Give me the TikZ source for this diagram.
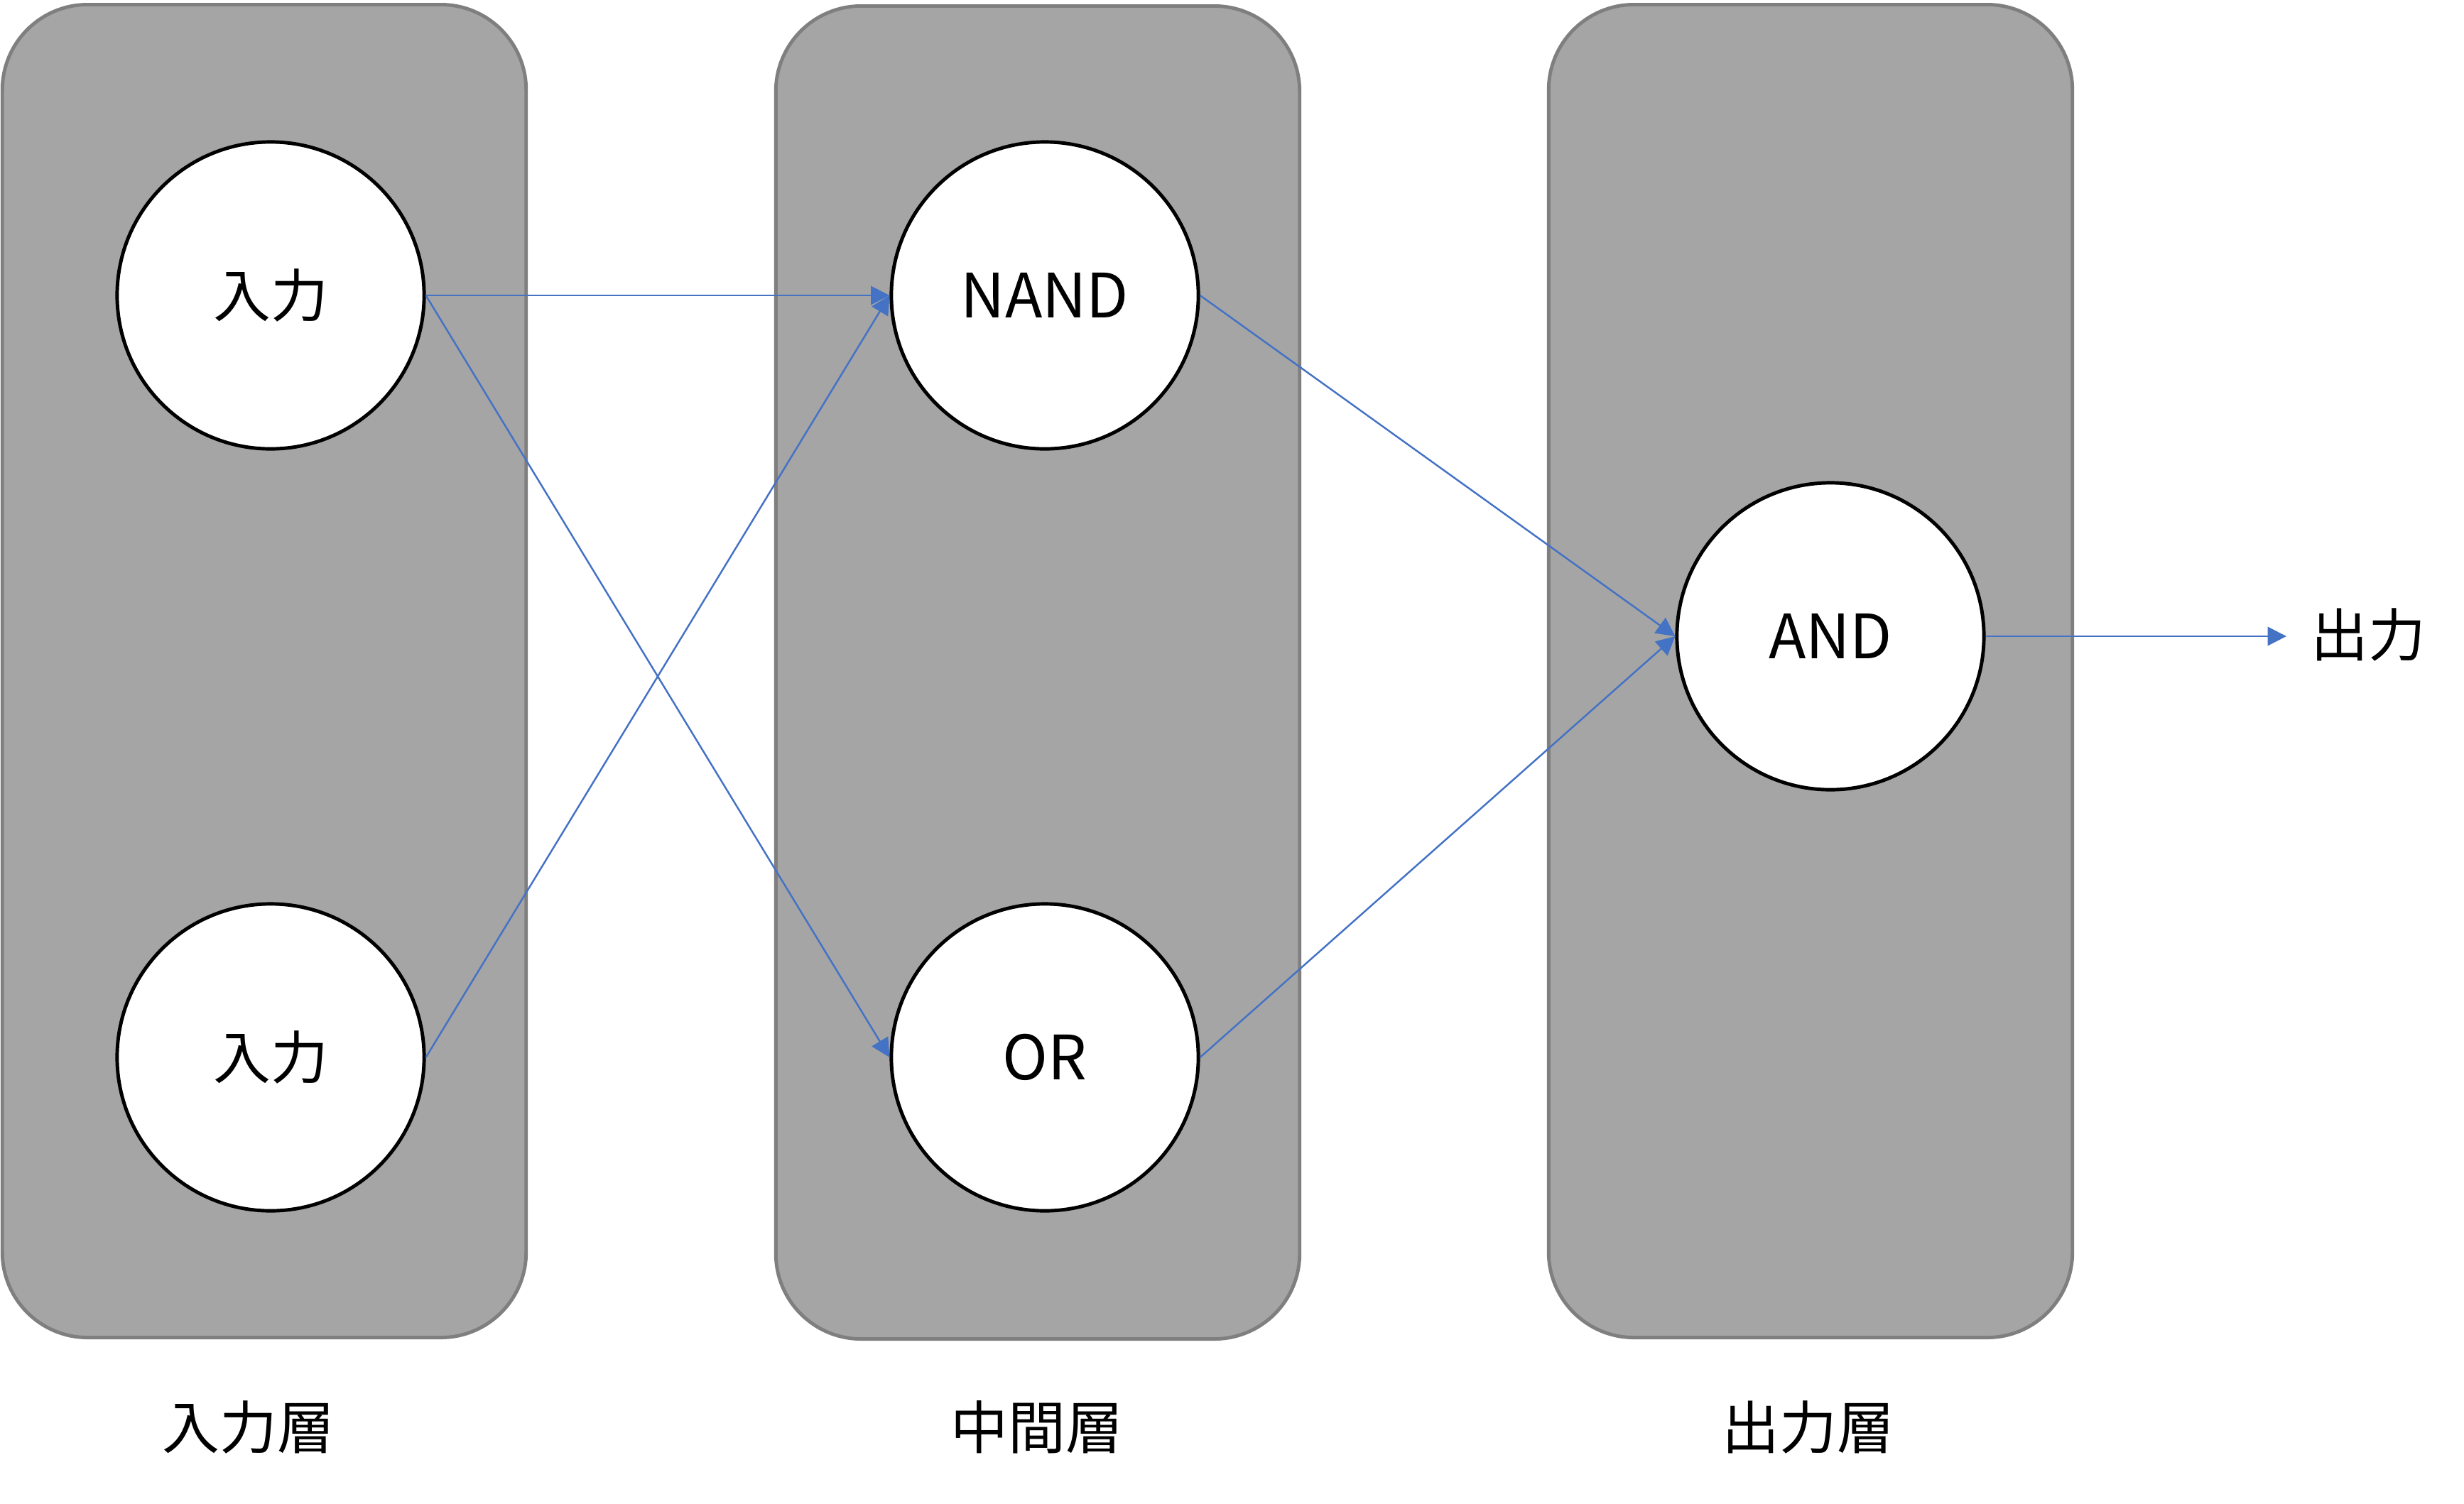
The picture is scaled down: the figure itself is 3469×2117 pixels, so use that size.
\documentclass[tikz,border=0pt]{standalone}
\usepackage{fontspec}
\setmainfont{Noto Sans CJK JP}
\usetikzlibrary{arrows.meta}
\definecolor{boxfill}{HTML}{A5A5A5}
\definecolor{boxline}{HTML}{7F7F7F}
\definecolor{arrowblue}{HTML}{4472C4}
\begin{document}
\begin{tikzpicture}[x=0.01cm,y=-0.01cm,
  layer/.style={draw=boxline,line width=1.4pt,fill=boxfill,rounded corners=1.2cm,
    minimum width=7.37cm,minimum height=18.76cm,inner sep=0pt},
  neuron/.style={circle,draw=black,line width=1.4pt,fill=white,minimum size=4.32cm,inner sep=0pt,
    font=\fontsize{24.5}{30}\selectfont},
  cjk/.style={font=\fontsize{23}{28}\selectfont},
  label/.style={font=\fontsize{23}{28}\selectfont,inner sep=0pt},
  conn/.style={draw=arrowblue,line width=0.7pt,-{Triangle[length=7.5pt,width=7.5pt]}}]
\useasboundingbox (0,0) rectangle (3469,2117);
\node[layer] (L1) at (372,945) {};
\node[layer] (L2) at (1461,947) {};
\node[layer] (L3) at (2549,945) {};
\node[neuron,cjk] (in1) at (381,416) {入力};
\node[neuron,cjk] (in2) at (381,1489) {入力};
\node[neuron] (nand) at (1471,416) {NAND};
\node[neuron] (or) at (1471,1489) {OR};
\node[neuron] (and) at (2577,896) {AND};
\coordinate (out) at (3219,896);
\node[label] (outlbl) at (3334,894) {出力};
\node[label] (t1) at (350,2010) {入力層};
\node[label] (t2) at (1460,2010) {中間層};
\node[label] (t3) at (2546,2010) {出力層};
\draw[conn] (in1.east) -- (nand.west);
\draw[conn] (in1.east) -- (or.west);
\draw[conn] (in2.east) -- (nand.west);
\draw[conn] (nand.east) -- (and.west);
\draw[conn] (or.east) -- (and.west);
\draw[conn] (and.east) -- (out);
\end{tikzpicture}
\end{document}
